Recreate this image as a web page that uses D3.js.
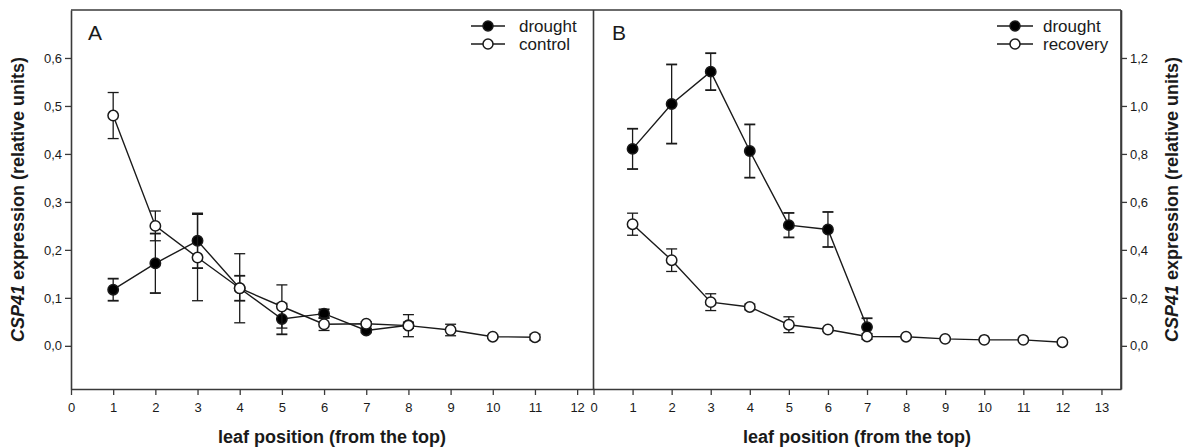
<!DOCTYPE html>
<html><head><meta charset="utf-8">
<script src="https://cdn.jsdelivr.net/npm/d3@7"></script>
<style>
html,body{margin:0;padding:0;background:#fff;}
svg{display:block;font-family:"Liberation Sans",Arial,sans-serif;}
</style></head>
<body><svg id="c" width="1187" height="448"></svg>
<script>
// ---- data ----
const leafA_drought = [1,2,3,4,5,6,7,8];
const valA_drought  = [0.117,0.172,0.219,0.120,0.056,0.067,0.032,0.043];
const errA_drought  = [0.023,0.062,0.057,0.026,0.032,0.009,0.004,0.006];
const leafA_control = [1,2,3,4,5,6,7,8,9,10,11];
const valA_control  = [0.480,0.250,0.184,0.120,0.082,0.045,0.046,0.042,0.033,0.019,0.018];
const errA_control  = [0.048,0.031,0.090,0.072,0.045,0.013,0.004,0.023,0.012,0.003,0.006];

const leafB_drought = [1,2,3,4,5,6,7];
const valB_drought  = [0.821,1.008,1.143,0.812,0.503,0.485,0.078];
const errB_drought  = [0.084,0.165,0.077,0.111,0.051,0.073,0.037];
const leafB_recovery = [1,2,3,4,5,6,7,8,9,10,11,12];
const valB_recovery  = [0.507,0.357,0.182,0.162,0.088,0.068,0.039,0.038,0.029,0.025,0.025,0.015];
const errB_recovery  = [0.046,0.047,0.035,0.012,0.033,0.006,0.012,0.005,0.004,0.004,0.004,0.004];

const xTicksA = [0,1,2,3,4,5,6,7,8,9,10,11,12];
const xTicksB = [0,1,2,3,4,5,6,7,8,9,10,11,12,13];
const yTicksA = [0,0.1,0.2,0.3,0.4,0.5,0.6];
const yTickLabelsA = ["0,0","0,1","0,2","0,3","0,4","0,5","0,6"];
const yTicksB = [0,0.2,0.4,0.6,0.8,1.0,1.2];
const yTickLabelsB = ["0,0","0,2","0,4","0,6","0,8","1,0","1,2"];
const legendA = ["drought","control"];
const legendB = ["drought","recovery"];
const xTitle = "leaf position (from the top)";

// ---- layout ----
const svg = d3.select("#c");
const plotTop = 10, plotBottom = 389;
const axisCol = "#3a3a3a", inkCol = "#1a1a1a";

const xA = d3.scaleLinear().domain([0,12.4]).range([71,594]);
const xB = d3.scaleLinear().domain([0,13.5]).range([593.5,1121]);
const yA = d3.scaleLinear().domain([-0.09,0.7]).range([plotBottom,plotTop]);
const yB = d3.scaleLinear().domain([-0.18,1.4]).range([plotBottom,plotTop]);

// frame
svg.append("line").attr("x1",71).attr("x2",1121).attr("y1",plotTop).attr("y2",plotTop)
  .attr("stroke",axisCol).attr("stroke-width",1.6);
svg.append("line").attr("x1",1121).attr("x2",1121).attr("y1",plotTop).attr("y2",plotBottom)
  .attr("stroke",axisCol).attr("stroke-width",1.6);
svg.append("line").attr("x1",593.5).attr("x2",593.5).attr("y1",plotTop).attr("y2",plotBottom)
  .attr("stroke",axisCol).attr("stroke-width",1.6);

function styleAxis(g){
  g.select(".domain").attr("stroke",axisCol).attr("stroke-width",1.6);
  g.selectAll(".tick line").attr("stroke",axisCol).attr("stroke-width",1.3);
  g.selectAll(".tick text").attr("fill",inkCol).style("font-size","13px")
    .style("font-family","'Liberation Sans',Arial,sans-serif");
}

// x axes
const gxA = svg.append("g").attr("transform",`translate(0,${plotBottom})`)
  .call(d3.axisBottom(xA).tickValues(xTicksA).tickSize(6).tickPadding(8).tickFormat(d3.format("d")).tickSizeOuter(0));
styleAxis(gxA);
const gxB = svg.append("g").attr("transform",`translate(0,${plotBottom})`)
  .call(d3.axisBottom(xB).tickValues(xTicksB).tickSize(6).tickPadding(8).tickFormat(d3.format("d")).tickSizeOuter(0));
styleAxis(gxB);

// y axes
const gyA = svg.append("g").attr("transform",`translate(71,0)`)
  .call(d3.axisLeft(yA).tickValues(yTicksA).tickSize(6).tickPadding(3)
    .tickFormat((d,i)=>yTickLabelsA[i]).tickSizeOuter(0));
styleAxis(gyA);
const gyB = svg.append("g").attr("transform",`translate(1121,0)`)
  .call(d3.axisRight(yB).tickValues(yTicksB).tickSize(6).tickPadding(3)
    .tickFormat((d,i)=>yTickLabelsB[i]).tickSizeOuter(0));
styleAxis(gyB);

// axis titles
function xTitleAt(cx){
  svg.append("text").attr("x",cx).attr("y",443).attr("text-anchor","middle")
    .style("font-size","18px").style("font-weight","bold").attr("fill",inkCol).text(xTitle);
}
xTitleAt(332); xTitleAt(857);

function yTitleAt(x){
  const t = svg.append("text").attr("transform",`translate(${x},${(plotTop+plotBottom)/2}) rotate(-90)`)
    .attr("text-anchor","middle").style("font-size","18px").style("font-weight","bold").attr("fill",inkCol);
  t.append("tspan").style("font-style","italic").text("CSP41");
  t.append("tspan").text(" expression (relative units)");
}
yTitleAt(24); yTitleAt(1178);

// panel letters
svg.append("text").attr("x",88).attr("y",40).style("font-size","21px").attr("fill",inkCol).text("A");
svg.append("text").attr("x",612).attr("y",40).style("font-size","21px").attr("fill",inkCol).text("B");

// series drawing
function drawSeries(xs, ys, es, x, y, filled){
  const g = svg.append("g");
  const pts = xs.map((d,i)=>({x:d,y:ys[i],e:es[i]}));
  g.append("path").datum(pts)
    .attr("d",d3.line().x(d=>x(d.x)).y(d=>y(d.y)))
    .attr("fill","none").attr("stroke",inkCol).attr("stroke-width",1.4);
  const eb = g.selectAll(".eb").data(pts).enter().append("g");
  eb.append("line").attr("x1",d=>x(d.x)).attr("x2",d=>x(d.x))
    .attr("y1",d=>y(d.y+d.e)).attr("y2",d=>y(d.y-d.e))
    .attr("stroke",inkCol).attr("stroke-width",1.3);
  [1,-1].forEach(s=>{
    eb.append("line").attr("x1",d=>x(d.x)-5.5).attr("x2",d=>x(d.x)+5.5)
      .attr("y1",d=>y(d.y+s*d.e)).attr("y2",d=>y(d.y+s*d.e))
      .attr("stroke",inkCol).attr("stroke-width",filled?1.8:1.3);
  });
  g.selectAll("circle").data(pts).enter().append("circle")
    .attr("cx",d=>x(d.x)).attr("cy",d=>y(d.y)).attr("r",5.2)
    .attr("fill",filled?"#000":"#fff").attr("stroke",inkCol).attr("stroke-width",1.5);
}
drawSeries(leafA_drought,valA_drought,errA_drought,xA,yA,true);
drawSeries(leafA_control,valA_control,errA_control,xA,yA,false);
drawSeries(leafB_drought,valB_drought,errB_drought,xB,yB,true);
drawSeries(leafB_recovery,valB_recovery,errB_recovery,xB,yB,false);

// legends
function legend(labels, x1, x2, tx, rows){
  labels.forEach((lab,i)=>{
    const yy = rows[i];
    svg.append("line").attr("x1",x1).attr("x2",x2).attr("y1",yy).attr("y2",yy)
      .attr("stroke",inkCol).attr("stroke-width",1.4);
    svg.append("circle").attr("cx",(x1+x2)/2).attr("cy",yy).attr("r",5)
      .attr("fill",i===0?"#000":"#fff").attr("stroke",inkCol).attr("stroke-width",1.5);
    svg.append("text").attr("x",tx).attr("y",yy+6).style("font-size","17px")
      .attr("fill",inkCol).text(lab);
  });
}
legend(legendA, 471, 505, 519, [26,44]);
legend(legendB, 997, 1033, 1043, [26,44]);
</script></body></html>
